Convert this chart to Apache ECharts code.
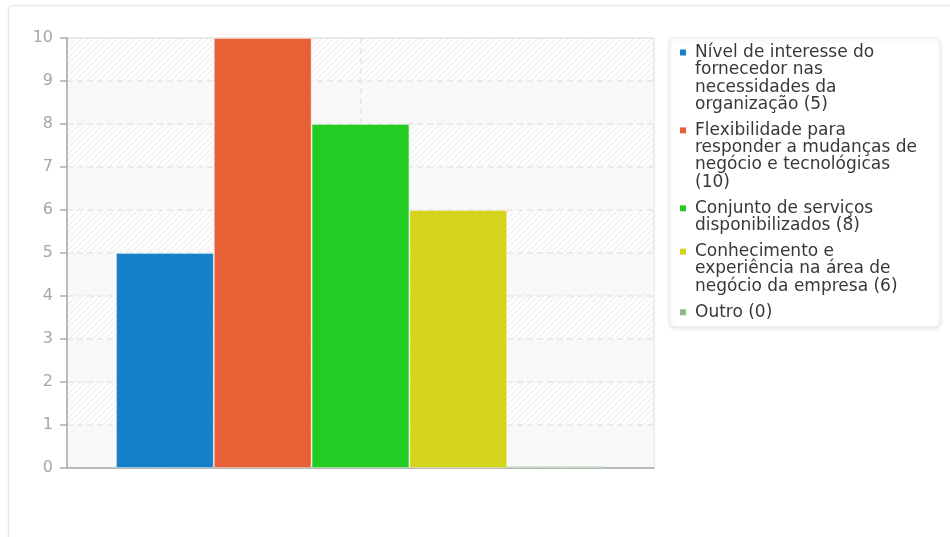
<!DOCTYPE html>
<html>
<head>
<meta charset="utf-8">
<script src="https://cdn.jsdelivr.net/npm/echarts@6/dist/echarts.min.js"></script>
<style>
  html, body { margin: 0; padding: 0; background: #ffffff; }
  #chart { width: 950px; height: 537px; }
</style>
</head>
<body>
<div id="chart"></div>
<script>
// Survey answers: one category, one bar per answer
const seriesNames = [
  'Nível de interesse do fornecedor nas necessidades da organização',
  'Flexibilidade para responder a mudanças de negócio e tecnológicas',
  'Conjunto de serviços disponibilizados',
  'Conhecimento e experiência na área de negócio da empresa',
  'Outro'
];
const seriesValues = [5, 10, 8, 6, 0];
const seriesColors = ['#1380c8', '#e86035', '#22cc22', '#d4d41c', '#88bb88'];
const categories = [''];
const yMin = 0;
const yMax = 10;
const yStep = 1;

const FONT = '"DejaVu Sans", Verdana, sans-serif';

// Diagonal hatch used as plot background
function hatchPattern() {
  const s = 6;
  const c = document.createElement('canvas');
  c.width = s; c.height = s;
  const g = c.getContext('2d');
  g.fillStyle = '#fdfdfd';
  g.fillRect(0, 0, s, s);
  g.strokeStyle = '#ebebeb';
  g.lineWidth = 1;
  g.beginPath();
  g.moveTo(0, s); g.lineTo(s, 0);
  g.moveTo(-1, 1); g.lineTo(1, -1);
  g.moveTo(s - 1, s + 1); g.lineTo(s + 1, s - 1);
  g.stroke();
  return { image: c, repeat: 'repeat' };
}

// Word wrap for legend labels
const measureCtx = document.createElement('canvas').getContext('2d');
function wrap(text, font, maxW) {
  measureCtx.font = font;
  const words = text.split(' ');
  const lines = [];
  let cur = '';
  words.forEach(w => {
    const t = cur ? cur + ' ' + w : w;
    if (cur && measureCtx.measureText(t).width > maxW) {
      lines.push(cur);
      cur = w;
    } else {
      cur = t;
    }
  });
  if (cur) lines.push(cur);
  return lines;
}

// Legend panel on the right
function legendGraphics() {
  const font = '17px "DejaVu Sans"';
  const lineH = 17.3;
  const gapH = 8.7;
  const children = [{
    type: 'rect',
    shape: { x: 670, y: 38, width: 270, height: 289, r: 5 },
    style: { fill: '#ffffff', stroke: '#eeeeee', lineWidth: 1,
             shadowBlur: 4, shadowColor: 'rgba(0,0,0,0.12)', shadowOffsetY: 1 },
    z: 10
  }];
  let yCenter = 52.5;
  seriesNames.forEach((name, i) => {
    const label = name + ' (' + seriesValues[i] + ')';
    const lines = wrap(label, font, 232);
    children.push({
      type: 'rect',
      shape: { x: 680, y: yCenter - 3, width: 6, height: 6 },
      style: { fill: seriesColors[i] },
      z: 11
    });
    children.push({
      type: 'text',
      x: 695,
      y: yCenter - lineH / 2,
      style: {
        text: lines.join('\n'),
        font: font,
        lineHeight: lineH,
        fill: '#383838',
        verticalAlign: 'top'
      },
      z: 11
    });
    yCenter += lines.length * lineH + gapH;
  });
  return { type: 'group', children: children };
}

const chart = echarts.init(document.getElementById('chart'), null, { renderer: 'canvas' });

const series = seriesNames.map((name, i) => ({
  name: name,
  type: 'bar',
  data: [seriesValues[i]],
  barGap: '0%',
  barCategoryGap: '16.7%',
  barMinHeight: 2,
  itemStyle: {
    color: seriesColors[i],
    borderColor: 'rgba(255,255,255,0.35)',
    borderWidth: 1
  },
  emphasis: { disabled: true }
}));

chart.setOption({
  animation: false,
  backgroundColor: '#ffffff',
  textStyle: { fontFamily: FONT },
  grid: {
    left: 67, right: 296, top: 38, bottom: 69,
    show: true,
    backgroundColor: hatchPattern(),
    borderColor: '#e6e6e6',
    borderWidth: 1.5
  },
  xAxis: [{
    type: 'category',
    data: categories,
    axisLine: { show: true, lineStyle: { color: '#aaaaaa', width: 1.5 } },
    axisTick: { show: false },
    axisLabel: { show: false },
    splitLine: { show: false }
  }, {
    type: 'value',
    position: 'top',
    min: 0, max: 2, interval: 1,
    axisLine: { show: false },
    axisTick: { show: false },
    axisLabel: { show: false },
    splitLine: {
      show: true, showMinLine: false, showMaxLine: false,
      lineStyle: { color: '#e6e6e6', width: 1.5, type: [6, 4] }
    }
  }],
  yAxis: {
    type: 'value',
    min: yMin, max: yMax, interval: yStep,
    axisLine: { show: true, lineStyle: { color: '#aaaaaa', width: 1.5 } },
    axisTick: { show: true, length: 7, lineStyle: { color: '#aaaaaa', width: 1.5 } },
    axisLabel: { color: '#a6a6a6', fontSize: 16, margin: 14, fontFamily: FONT },
    splitLine: { show: true, lineStyle: { color: '#e6e6e6', width: 1.5, type: [6, 4] } },
    splitArea: { show: true, areaStyle: { color: ['rgba(248,248,248,0.85)', 'rgba(255,255,255,0)'] } }
  },
  graphic: [{
    type: 'rect',
    shape: { x: 8.5, y: 5.5, width: 960, height: 560, r: 4 },
    style: { fill: 'none', stroke: '#e8e8e8', lineWidth: 1.5 },
    silent: true,
    z: -1
  }, legendGraphics()],
  series: series
});
</script>
</body>
</html>
